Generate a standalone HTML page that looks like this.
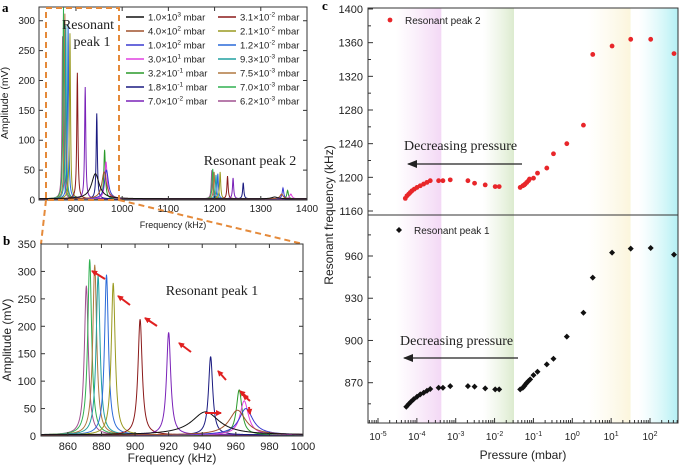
<!DOCTYPE html>
<html><head><meta charset="utf-8"><style>
body{margin:0;background:#fff;}
svg{display:block;font-family:"Liberation Sans",sans-serif;}
.serif{font-family:"Liberation Serif",serif;}
</style></head><body>
<svg id="fig" width="680" height="468" viewBox="0 0 680 468" xmlns="http://www.w3.org/2000/svg">
<defs>
<linearGradient id="gPink" x1="0" x2="1"><stop offset="0" stop-color="#f6e0f6" stop-opacity="0"/><stop offset="1" stop-color="#f3d8f5"/></linearGradient>
<linearGradient id="gGreen" x1="0" x2="1"><stop offset="0" stop-color="#e6f0da" stop-opacity="0"/><stop offset="1" stop-color="#dcebcf"/></linearGradient>
<linearGradient id="gYel" x1="0" x2="1"><stop offset="0" stop-color="#fcf8e4" stop-opacity="0"/><stop offset="1" stop-color="#fbf5dc"/></linearGradient>
<linearGradient id="gCyan" x1="0" x2="1"><stop offset="0" stop-color="#d0f6f8" stop-opacity="0"/><stop offset="1" stop-color="#b4f0f4"/></linearGradient>
<clipPath id="clipA"><rect x="39" y="7" width="268" height="193"/></clipPath>
<clipPath id="clipB"><rect x="41" y="244" width="262" height="192"/></clipPath>
<marker id="ah" markerUnits="userSpaceOnUse" markerWidth="10" markerHeight="8" refX="9" refY="4" orient="auto"><path d="M0,0 L10,4 L0,8 z" fill="#222"/></marker>
<marker id="rh" markerUnits="userSpaceOnUse" markerWidth="6" markerHeight="6" refX="5" refY="3" orient="auto"><path d="M0,0 L6,3 L0,6 z" fill="#e02020"/></marker>
</defs>
<g id="gA"></g>
<g id="gB"></g>
<g id="gC"></g>
</svg>
<script>
// ---- spectra data (panels a, b) ----
const seriesLabels=["1.0×10³ mbar","4.0×10² mbar","1.0×10² mbar","3.0×10¹ mbar","3.2×10⁻¹ mbar","1.8×10⁻¹ mbar","7.0×10⁻² mbar","3.1×10⁻² mbar","2.1×10⁻² mbar","1.2×10⁻² mbar","9.3×10⁻³ mbar","7.5×10⁻³ mbar","7.0×10⁻³ mbar","6.2×10⁻³ mbar"];
const seriesColors=["#111111","#a0522d","#3a3ad0","#e040e0","#2a9a2a","#1a1a80","#7a22b8","#8b1a1a","#9a9a20","#2a6ad8","#20a0a0","#b07840","#30b050","#a05090"];
const peak1Center=[942,961,966,965,962,945,920,903,887,883,878,876,873,871];
const peak1Amp=[42,45,48,62,82,143,187,211,277,292,290,310,320,272];
const peak1Width=[10,6,5,3,2,1.5,1.5,1.5,1.4,1.4,1.4,1.4,1.4,1.4];
const peak2Center=[1330,1345,1348,1365,1358,1262,1240,1228,1212,1207,1203,1199,1196,1194];
const peak2Amp=[3,8,18,8,14,27,35,38,45,42,40,45,50,48];
const peak2Width=[8,4,2,3,2,1.5,1.5,1.5,1.5,1.5,1.5,1.5,1.5,1.5];
const axAFreqTicks=[900,1000,1100,1200,1300,1400];
const axAAmpTicks=[0,50,100,150,200,250,300];
const axBFreqTicks=[860,880,900,920,940,960,980,1000];
const axBAmpTicks=[0,50,100,150,200,250,300,350];
// ---- panel c data ----
const p2LogP=[-4.297,-4.255,-4.212,-4.169,-4.126,-4.066,-3.997,-3.912,-3.826,-3.740,-3.655,-3.440,-3.329,-3.141,-2.686,-2.515,-2.241,-1.984,-1.881,-1.341,-1.273,-1.238,-1.213,-1.170,-1.127,-1.101,-0.998,-0.895,-0.656,-0.484,-0.141,0.287,0.527,1.024,1.504,2.018,2.618];
const p2Freq=[1175,1178,1180,1182,1184,1186,1188,1190,1192,1194,1196,1196,1196,1197,1196,1193,1191,1189,1189,1188,1190,1191,1192,1194,1196,1198,1199,1205,1211,1228,1240,1262,1346,1356,1364,1364,1347];
const p1LogP=[-4.272,-4.212,-4.152,-4.083,-3.997,-3.912,-3.826,-3.740,-3.655,-3.440,-3.329,-3.141,-2.686,-2.515,-2.241,-1.984,-1.881,-1.341,-1.273,-1.238,-1.204,-1.170,-1.127,-1.084,-0.998,-0.895,-0.656,-0.484,-0.141,0.287,0.527,1.024,1.504,2.018,2.618];
const p1Freq=[852.9,854.8,856.5,858.2,860.0,861.7,862.9,864.3,865.5,866.4,866.4,867.6,867.6,867.2,866.0,865.3,865.3,865.3,866.4,867.6,868.8,870.0,871.2,872.4,875.4,877.8,883.0,887.0,902.7,919.7,944.6,962.4,965.2,965.7,961.0];
const cUpperTicks=[1160,1200,1240,1280,1320,1360,1400];
const cLowerTicks=[870,900,930,960];
const cDecades=[-5,-4,-3,-2,-1,0,1,2];

const NS="http://www.w3.org/2000/svg";
function mk(parent,tag,attrs,text){const e=document.createElementNS(NS,tag);for(const k in attrs)e.setAttribute(k,attrs[k]);if(text!==undefined)e.textContent=text;parent.appendChild(e);return e;}
function lin(d0,d1,r0,r1){return v=>r0+(v-d0)*(r1-r0)/(d1-d0);}
function spectrum(i,f){
  const a=peak1Amp[i]/(1+Math.pow((f-peak1Center[i])/peak1Width[i],2));
  const b=peak2Amp[i]/(1+Math.pow((f-peak2Center[i])/peak2Width[i],2));
  return a+b+2;
}
function supText(g,x,y,base,exp,anchor){
  const t=mk(g,'text',{x:x,y:y,'font-size':10,'text-anchor':anchor||'middle',fill:'#222'});
  const s1=document.createElementNS(NS,'tspan');s1.textContent=base;t.appendChild(s1);
  const s2=document.createElementNS(NS,'tspan');s2.setAttribute('dy','-4');s2.setAttribute('font-size','7');s2.textContent=exp;t.appendChild(s2);
  return t;
}

// ===== Panel A =====
(function(){
const g=document.getElementById('gA');
const L=39,R=307,T=7,B=200;
const x=lin(820,1400,L,R), y=lin(0,323,B,T);
const lbl=mk(g,'text',{x:2,y:12,'font-size':13,'font-weight':'bold',class:'serif'},'a');

const cg=mk(g,'g',{'clip-path':'url(#clipA)'});
for(let i=seriesColors.length-1;i>=0;i--){
  let d='';
  for(let f=820;f<=1400;f+=0.5){d+=(f===820?'M':'L')+x(f).toFixed(2)+','+y(spectrum(i,f)).toFixed(2);}
  const p=mk(cg,'path',{d:d,fill:'none',stroke:seriesColors[i],'stroke-width':1});
  
}
const fr=mk(g,'rect',{x:L,y:T,width:R-L,height:B-T,fill:'none',stroke:'#333','stroke-width':1});

axAFreqTicks.forEach(v=>{mk(g,'line',{x1:x(v),x2:x(v),y1:B,y2:B-4,stroke:'#333'});mk(g,'line',{x1:x(v),x2:x(v),y1:T,y2:T+4,stroke:'#333'});
  const t=mk(g,'text',{x:x(v),y:B+12,'font-size':10,'text-anchor':'middle',fill:'#222'},v);});
axAAmpTicks.forEach(v=>{mk(g,'line',{x1:L,x2:L+4,y1:y(v),y2:y(v),stroke:'#333'});mk(g,'line',{x1:R,x2:R-4,y1:y(v),y2:y(v),stroke:'#333'});
  const t=mk(g,'text',{x:L-4,y:y(v)+3.5,'font-size':10,'text-anchor':'end',fill:'#222'},v);});
const xt=mk(g,'text',{x:173,y:228,'font-size':9,'text-anchor':'middle',fill:'#222'},'Frequency (kHz)');
const yt=mk(g,'text',{x:0,y:0,'font-size':10.5,'text-anchor':'middle',fill:'#222',transform:'translate(8,103) rotate(-90)'},'Amplitude (mV)');
const r1=mk(g,'text',{x:88,y:29,'font-size':14,'text-anchor':'middle',class:'serif',fill:'#222'},'Resonant');
mk(g,'text',{x:92,y:46,'font-size':14,'text-anchor':'middle',class:'serif',fill:'#222'},'peak 1');
const r2=mk(g,'text',{x:250,y:165,'font-size':14,'text-anchor':'middle',class:'serif',fill:'#222'},'Resonant peak 2');
// legend
const lg=mk(g,'g',{});
seriesLabels.forEach((s,i)=>{
  const col=i<7?0:1, row=i%7;
  const lx=col===0?126:218, ly=17+row*14;
  mk(lg,'line',{x1:lx,x2:lx+18,y1:ly,y2:ly,stroke:seriesColors[i],'stroke-width':1.5});
  const m=s.match(/^(.*×10)(\S+) mbar$/);
  const t=mk(lg,'text',{x:lx+22,y:ly+3.5,'font-size':9.5,fill:'#222'});
  
  const a=document.createElementNS(NS,'tspan');a.textContent=m[1];t.appendChild(a);
  const b=document.createElementNS(NS,'tspan');b.setAttribute('dy','-4');b.setAttribute('font-size','6.5');b.textContent=m[2].replace(/[⁰¹²³⁻]/g,c=>({'⁰':'0','¹':'1','²':'2','³':'3','⁻':'-'}[c]));t.appendChild(b);
  const c=document.createElementNS(NS,'tspan');c.setAttribute('dy','4');c.textContent=' mbar';t.appendChild(c);
});
// zoom box
const bx=mk(g,'rect',{x:46,y:8,width:73,height:192,fill:'none',stroke:'#e58a3a','stroke-width':2,'stroke-dasharray':'6,4'});

mk(g,'line',{x1:46,y1:200,x2:41,y2:244,stroke:'#e58a3a','stroke-width':2,'stroke-dasharray':'6,4'});
mk(g,'line',{x1:119,y1:200,x2:303,y2:244,stroke:'#e58a3a','stroke-width':2,'stroke-dasharray':'6,4'});
})();

// ===== Panel B =====
(function(){
const g=document.getElementById('gB');
const L=41,R=303,T=244,B=436;
const x=lin(844,1000,L,R), y=lin(0,350,B,T);
const lbl=mk(g,'text',{x:3,y:245,'font-size':13,'font-weight':'bold',class:'serif'},'b');

const cg=mk(g,'g',{'clip-path':'url(#clipB)'});
for(let i=seriesColors.length-1;i>=0;i--){
  let d='';
  for(let f=844;f<=1000;f+=0.2){d+=(f===844?'M':'L')+x(f).toFixed(2)+','+y(spectrum(i,f)).toFixed(2);}
  const p=mk(cg,'path',{d:d,fill:'none',stroke:seriesColors[i],'stroke-width':1});
  
}
const fr=mk(g,'rect',{x:L,y:T,width:R-L,height:B-T,fill:'none',stroke:'#333','stroke-width':1});

axBFreqTicks.forEach(v=>{mk(g,'line',{x1:x(v),x2:x(v),y1:B,y2:B-4,stroke:'#333'});mk(g,'line',{x1:x(v),x2:x(v),y1:T,y2:T+4,stroke:'#333'});
  const t=mk(g,'text',{x:x(v),y:B+14,'font-size':11,'text-anchor':'middle',fill:'#222'},v);});
axBAmpTicks.forEach(v=>{mk(g,'line',{x1:L,x2:L+4,y1:y(v),y2:y(v),stroke:'#333'});mk(g,'line',{x1:R,x2:R-4,y1:y(v),y2:y(v),stroke:'#333'});
  const t=mk(g,'text',{x:L-5,y:y(v)+4,'font-size':11,'text-anchor':'end',fill:'#222'},v);});
const xt=mk(g,'text',{x:172,y:462,'font-size':12,'text-anchor':'middle',fill:'#222'},'Frequency (kHz)');
const yt=mk(g,'text',{x:0,y:0,'font-size':12,'text-anchor':'middle',fill:'#222',transform:'translate(11,340) rotate(-90)'},'Amplitude (mV)');
const rp=mk(g,'text',{x:212,y:295,'font-size':14,'text-anchor':'middle',class:'serif',fill:'#222'},'Resonant peak 1');
// red trend arrows (annotation)
const arrows=[[105,279,92,271],[130,305,118,296],[157,326,145,318],[191,352,179,343],[226,380,218,371],[248,398,240,391],[250,401,243,395],[249,407,250,414],[205,413,221,413]];
arrows.forEach(a=>{const l=mk(g,'line',{x1:a[0],y1:a[1],x2:a[2],y2:a[3],stroke:'#e02020','stroke-width':2,'marker-end':'url(#rh)'});});
})();

// ===== Panel C =====
(function(){
const g=document.getElementById('gC');
const L=368,R=678,T=8,M=215,B=423;
const x=lin(-5,2,378,650);
const yU=lin(1160,1400,211,9);
const yL=lin(870,960,382.7,256);
const lbl=mk(g,'text',{x:322,y:10,'font-size':13,'font-weight':'bold',class:'serif'},'c');

const bands=[[-4.55,-3.37,'gPink'],[-2.3,-1.5,'gGreen'],[0.4,1.5,'gYel'],[1.7,2.72,'gCyan']];
bands.forEach(b=>{const r=mk(g,'rect',{x:x(b[0]),y:T,width:Math.min(x(b[1]),R)-x(b[0]),height:B-T,fill:'url(#'+b[2]+')'});});
const fr=mk(g,'rect',{x:L,y:T,width:R-L,height:B-T,fill:'none',stroke:'#333','stroke-width':1});

mk(g,'line',{x1:L,x2:R,y1:M,y2:M,stroke:'#333','stroke-width':1});
cUpperTicks.forEach(v=>{mk(g,'line',{x1:L,x2:L+5,y1:yU(v),y2:yU(v),stroke:'#333'});if(v<1400)mk(g,'line',{x1:L,x2:L+3,y1:yU(v+20),y2:yU(v+20),stroke:'#333'});
  const t=mk(g,'text',{x:L-5,y:yU(v)+4,'font-size':11,'text-anchor':'end',fill:'#222'},v);});
cLowerTicks.forEach(v=>{mk(g,'line',{x1:L,x2:L+5,y1:yL(v),y2:yL(v),stroke:'#333'});mk(g,'line',{x1:L,x2:L+3,y1:yL(v-15),y2:yL(v-15),stroke:'#333'});
  const t=mk(g,'text',{x:L-5,y:yL(v)+4,'font-size':11,'text-anchor':'end',fill:'#222'},v);});
mk(g,'line',{x1:L,x2:L+3,y1:yL(975),y2:yL(975),stroke:'#333'});
for(let dd=-6;dd<=2;dd++){
  for(let m=1;m<10;m++){const v=dd+Math.log10(m);const px=x(v);if(px<L||px>R)continue;
    mk(g,'line',{x1:px,x2:px,y1:B,y2:B-(m===1?5:3),stroke:'#333'});}
}
cDecades.forEach(e=>{const t=supText(g,x(e),B+17,'10',String(e));});
const xt=mk(g,'text',{x:523,y:459,'font-size':12,'text-anchor':'middle',fill:'#222'},'Pressure (mbar)');
const yt=mk(g,'text',{x:0,y:0,'font-size':12,'text-anchor':'middle',fill:'#222',transform:'translate(333,215) rotate(-90)'},'Resonant frequency (kHz)');
p2LogP.forEach((v,i)=>{const c=mk(g,'circle',{cx:x(v),cy:yU(p2Freq[i]),r:2.4,fill:'#e8262a'});});
p1LogP.forEach((v,i)=>{const cx=x(v),cy=yL(p1Freq[i]);const d=mk(g,'path',{d:`M${cx},${cy-3} L${cx+3},${cy} L${cx},${cy+3} L${cx-3},${cy} Z`,fill:'#111'});});
mk(g,'circle',{cx:390,cy:20,r:2.4,fill:'#e8262a'});
const l2=mk(g,'text',{x:405,y:24,'font-size':10,fill:'#222'},'Resonant peak 2');
mk(g,'path',{d:'M399,227 L402,230 L399,233 L396,230 Z',fill:'#111'});
const l1=mk(g,'text',{x:414,y:234,'font-size':10,fill:'#222'},'Resonant peak 1');
const d1=mk(g,'text',{x:404,y:150,'font-size':14,class:'serif',fill:'#222'},'Decreasing pressure');
mk(g,'line',{x1:522,y1:164,x2:408,y2:164,stroke:'#222','stroke-width':1.2,'marker-end':'url(#ah)'});
const d2=mk(g,'text',{x:400,y:345,'font-size':14,class:'serif',fill:'#222'},'Decreasing pressure');
mk(g,'line',{x1:518,y1:358,x2:404,y2:358,stroke:'#222','stroke-width':1.2,'marker-end':'url(#ah)'});
})();
</script>
</body></html>
